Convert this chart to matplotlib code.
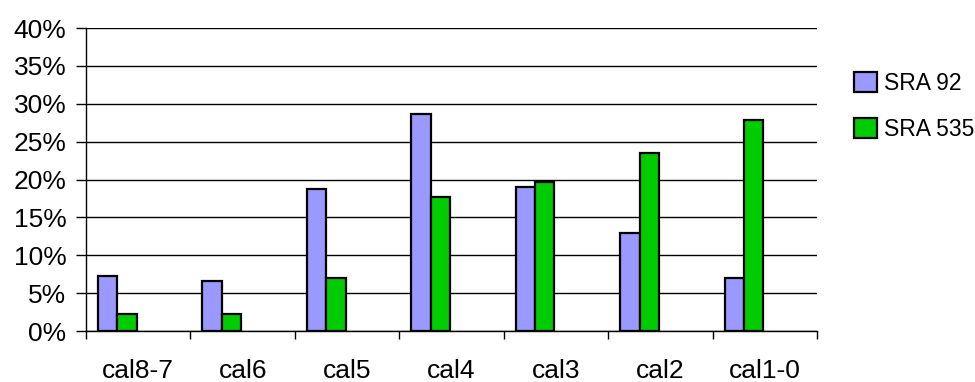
import numpy as np
import matplotlib.pyplot as plt
from matplotlib.ticker import FixedLocator, NullFormatter

plt.rcParams['font.family'] = ['Liberation Sans', 'DejaVu Sans']

# data (percent)
categories = ['cal8-7', 'cal6', 'cal5', 'cal4', 'cal3', 'cal2', 'cal1-0']
sra_92 = [7.3, 6.6, 18.7, 28.6, 19.0, 13.0, 7.0]
sra_535 = [2.2, 2.2, 7.0, 17.7, 19.7, 23.5, 27.9]
series_names = ['SRA 92', 'SRA 535']

fig = plt.figure(figsize=(9.75, 3.82), dpi=100)
ax = fig.add_axes([0.0882, 0.1335, 0.7498, 0.7932])

x = np.arange(len(categories))
w = 0.185
ax.bar(x - 0.385, sra_92, width=w, align='edge', color='#9999FF',
       edgecolor='black', linewidth=1.6, label=series_names[0], zorder=3)
ax.bar(x - 0.385 + w, sra_535, width=w, align='edge', color='#00CC00',
       edgecolor='black', linewidth=1.6, label=series_names[1], zorder=3)

ax.set_xlim(-0.5, len(categories) - 0.5)
ax.set_ylim(0, 40)
ax.set_yticks(np.arange(0, 41, 5))
ax.set_yticklabels([f'{v}%' for v in range(0, 41, 5)], fontsize=19)
ax.yaxis.grid(True, color='black', linewidth=1.0, zorder=0)

# ticks at category boundaries, labels at centres
ax.xaxis.set_major_locator(FixedLocator(np.arange(-0.5, len(categories), 1.0)))
ax.xaxis.set_major_formatter(NullFormatter())
ax.xaxis.set_minor_locator(FixedLocator(x))
ax.set_xticklabels(categories, minor=True, fontsize=19)
ax.tick_params(axis='x', which='major', direction='out', length=6, width=1)
ax.tick_params(axis='x', which='minor', length=0, pad=20)
ax.tick_params(axis='y', direction='out', length=7, width=1, pad=7)

for side in ['top', 'right']:
    ax.spines[side].set_visible(False)
ax.spines['left'].set_linewidth(1.0)
ax.spines['bottom'].set_linewidth(1.0)

# legend runs off the right edge, as in the original
fig.legend(loc='upper left', bbox_to_anchor=(0.867, 0.836), frameon=False,
           fontsize=16.5, handlelength=1.0, handleheight=1.0, handletextpad=0.3,
           labelspacing=1.0, borderaxespad=0)

fig.savefig('out.png', dpi=100)
